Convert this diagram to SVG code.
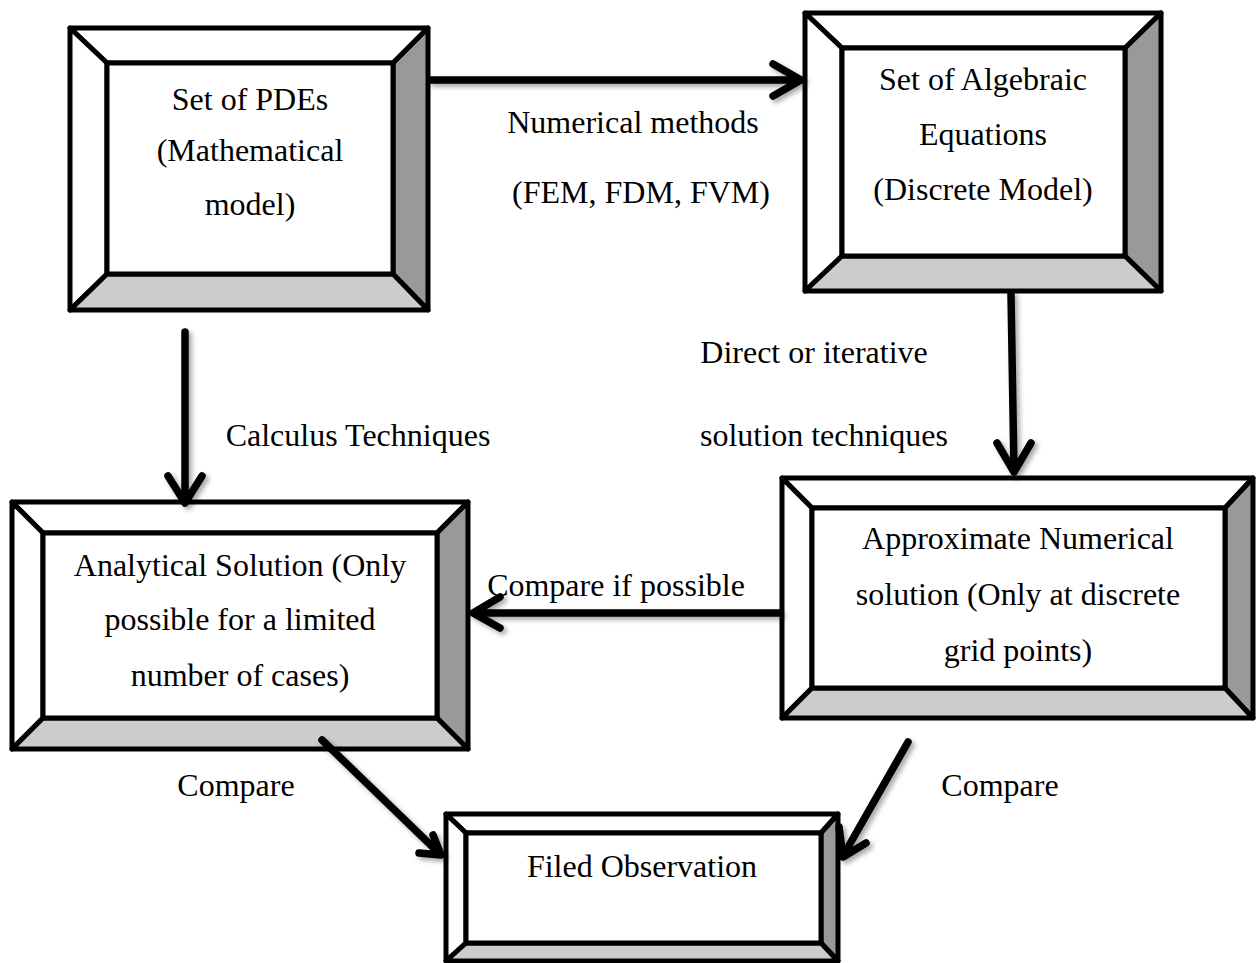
<svg xmlns="http://www.w3.org/2000/svg" width="1256" height="963" viewBox="0 0 1256 963">
<style>
.b{stroke:#000;stroke-width:5;stroke-linejoin:round}
.w{fill:#fff}.d{fill:#999}.g{fill:#ccc}
text{font-family:"Liberation Serif","Times New Roman",serif;font-size:32px;fill:#000;text-anchor:middle}
.c{fill:none;stroke:#000;stroke-width:7.5;stroke-linecap:round;stroke-linejoin:round}
</style>
<defs>
<filter id="sh" x="-20%" y="-20%" width="140%" height="140%">
<feDropShadow dx="3" dy="3" stdDeviation="2.5" flood-color="#000" flood-opacity="0.35"/>
</filter>
</defs>
<rect width="1256" height="963" fill="#fff"/>
<g id="pdes">
<polygon class="b w" points="70,28 428,28 393,63 107,63"/>
<polygon class="b w" points="70,28 107,63 107,274 70,310"/>
<polygon class="b d" points="428,28 428,310 393,274 393,63"/>
<polygon class="b g" points="70,310 107,274 393,274 428,310"/>
<rect class="b w" x="107" y="63" width="286" height="211"/>
<text x="250" y="110">Set of PDEs</text>
<text x="250" y="161">(Mathematical</text>
<text x="250" y="215">model)</text>
</g>
<g id="algebraic">
<polygon class="b w" points="805,13 1161,13 1125,48 842,48"/>
<polygon class="b w" points="805,13 842,48 842,256 805,291"/>
<polygon class="b d" points="1161,13 1161,291 1125,256 1125,48"/>
<polygon class="b g" points="805,291 842,256 1125,256 1161,291"/>
<rect class="b w" x="842" y="48" width="283" height="208"/>
<text x="983" y="90">Set of Algebraic</text>
<text x="983" y="145">Equations</text>
<text x="983" y="200">(Discrete Model)</text>
</g>
<g id="analytical">
<polygon class="b w" points="12,502 468,502 437,533 43,533"/>
<polygon class="b w" points="12,502 43,533 43,718 12,749"/>
<polygon class="b d" points="468,502 468,749 437,718 437,533"/>
<polygon class="b g" points="12,749 43,718 437,718 468,749"/>
<rect class="b w" x="43" y="533" width="394" height="185"/>
<text x="240" y="576">Analytical Solution (Only</text>
<text x="240" y="630">possible for a limited</text>
<text x="240" y="686">number of cases)</text>
</g>
<g id="approximate">
<polygon class="b w" points="782,478 1253,478 1225,508 812,508"/>
<polygon class="b w" points="782,478 812,508 812,688 782,718"/>
<polygon class="b d" points="1253,478 1253,718 1225,688 1225,508"/>
<polygon class="b g" points="782,718 812,688 1225,688 1253,718"/>
<rect class="b w" x="812" y="508" width="413" height="180"/>
<text x="1018" y="549">Approximate Numerical</text>
<text x="1018" y="605">solution (Only at discrete</text>
<text x="1018" y="661">grid points)</text>
</g>
<g id="observation">
<polygon class="b w" points="446,814 838,814 821,833 466,833"/>
<polygon class="b w" points="446,814 466,833 466,943 446,961"/>
<polygon class="b d" points="838,814 838,961 821,943 821,833"/>
<polygon class="b g" points="446,961 466,943 821,943 838,961"/>
<rect class="b w" x="466" y="833" width="355" height="110"/>
<text x="642" y="877">Filed Observation</text>
</g>
<g id="labels">
<text x="633" y="133">Numerical methods</text>
<text x="641" y="203">(FEM, FDM, FVM)</text>
<text x="814" y="363">Direct or iterative</text>
<text x="824" y="446">solution techniques</text>
<text x="358" y="446">Calculus Techniques</text>
<text x="616" y="596">Compare if possible</text>
<text x="236" y="796">Compare</text>
<text x="1000" y="796">Compare</text>
</g>
<g id="connectors" filter="url(#sh)">
<path class="c" d="M431,80 L800,80 M773,64 L801,80 L773,96"/>
<path class="c" d="M185,332 L185,502 M168,476 L185,503 L202,476"/>
<path class="c" d="M1011,294 L1014,472 M997,443 L1014,472 L1031,443"/>
<path class="c" d="M779,613 L474,613 M500,597 L473,613 L500,628"/>
<path class="c" d="M322,740 L440,854 M433,835 L441,855 L419,853"/>
<path class="c" d="M908,742 L843,856 M839,827 L843,857 L866,843"/>
</g>
</svg>
